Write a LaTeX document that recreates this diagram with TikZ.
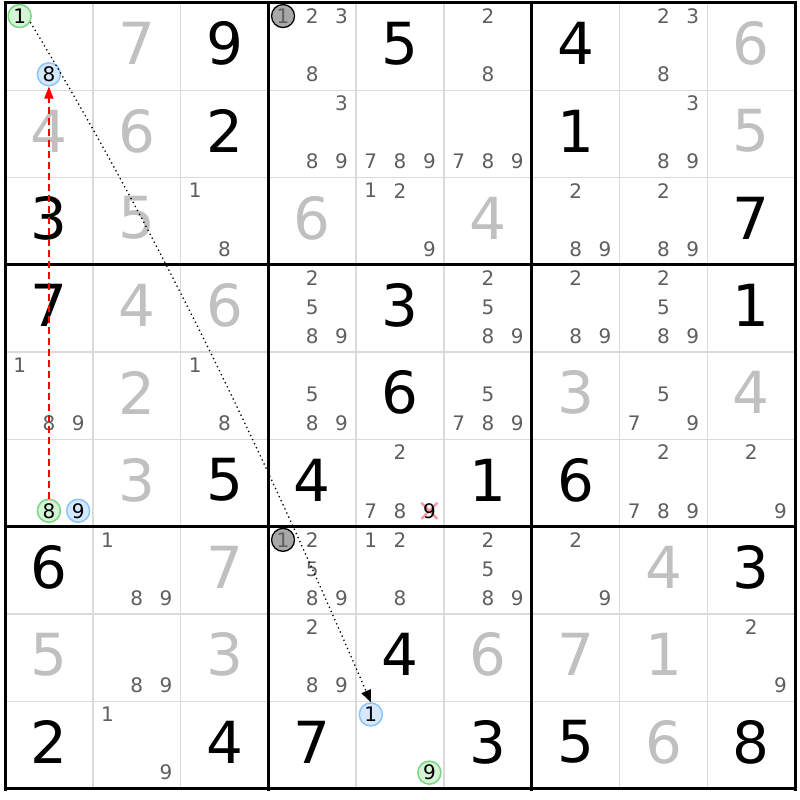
\documentclass[tikz,border=0pt]{standalone}
\usepackage{fontspec}
\setmainfont{DejaVu Sans}
\usetikzlibrary{arrows.meta}
\definecolor{candgray}{RGB}{95,95,95}
\definecolor{solvgray}{RGB}{192,192,192}
\definecolor{gridgray}{RGB}{218,218,218}
\definecolor{grfill}{RGB}{214,244,214}
\definecolor{grdraw}{RGB}{120,214,130}
\definecolor{blfill}{RGB}{214,232,255}
\definecolor{bldraw}{RGB}{140,196,250}
\definecolor{gyfill}{RGB}{168,168,168}
\definecolor{crosspink}{RGB}{246,150,160}
\tikzset{
  giv/.style={inner sep=0pt, text=black, font=\fontsize{58}{58}\selectfont},
  sol/.style={inner sep=0pt, text=solvgray, font=\fontsize{58}{58}\selectfont},
  cand/.style={inner sep=0pt, text=candgray, font=\fontsize{20}{20}\selectfont},
  grc/.style={circle, minimum size=23pt, draw=grdraw, fill=grfill, line width=1.5pt, text=black},
  blc/.style={circle, minimum size=23pt, draw=bldraw, fill=blfill, line width=1.5pt, text=black},
  gyc/.style={circle, minimum size=23pt, draw=black, fill=gyfill, line width=1.3pt, text=candgray},
  thinl/.style={draw=gridgray, line width=1.6pt},
  thickl/.style={draw=black, line width=3pt},
  chainlink/.style={draw=black, dash pattern=on 1.3pt off 3.2pt, line width=1.3pt, -{Triangle[width=10pt,length=12pt]}},
  redlink/.style={draw=red, dash pattern=on 7pt off 4pt, line width=1.2pt, -{Triangle[width=9pt,length=12pt]}},
}
\newcommand\sgiv[3]{\node[giv] (d#1#2) at ({5+(#2-0.5)*87.8},{3+(#1-0.5)*87.3-3}) {#3};}
\newcommand\ssol[3]{\node[sol] (d#1#2) at ({5+(#2-0.5)*87.8},{3+(#1-0.5)*87.3-3}) {#3};}
\newcommand\scand[4][]{%
  \pgfmathsetmacro\kx{5+(#3-1)*87.8+(mod(#4-1,3)+0.5)*29.27}%
  \pgfmathsetmacro\ky{3+(#2-1)*87.3+(floor((#4-1)/3)+0.5)*29.1-1.5}%
  \node[cand,#1] (k#2#3#4) at (\kx,\ky) {#4};}
\newcommand\scands[3]{\foreach \kk in {#3}{\scand{#1}{#2}{\kk}}}
\begin{document}
\begin{tikzpicture}[x=1pt,y=-1pt]
\useasboundingbox (0,0) rectangle (800,800);
\fill[white] (0,0) rectangle (800,800);
% thin grid lines
\foreach \i in {1,2,4,5,7,8}{
  \draw[thinl] ({5+\i*87.8},3) -- ({5+\i*87.8},789);
  \draw[thinl] (5,{3+\i*87.3}) -- (795,{3+\i*87.3});
}
% thick grid lines
\foreach \i in {0,3,6,9}{
  \draw[thickl] ({5+\i*87.8},1.5) -- ({5+\i*87.8},790.5);
  \draw[thickl] (3.5,{3+\i*87.3}) -- (796.5,{3+\i*87.3});
}
% row 1
\scand[grc]{1}{1}{1}\scand[blc]{1}{1}{8}
\ssol{1}{2}{7}\sgiv{1}{3}{9}
\scand[gyc]{1}{4}{1}\scands{1}{4}{2,3,8}
\sgiv{1}{5}{5}\scands{1}{6}{2,8}
\sgiv{1}{7}{4}\scands{1}{8}{2,3,8}\ssol{1}{9}{6}
% row 2
\ssol{2}{1}{4}\ssol{2}{2}{6}\sgiv{2}{3}{2}
\scands{2}{4}{3,8,9}\scands{2}{5}{7,8,9}\scands{2}{6}{7,8,9}
\sgiv{2}{7}{1}\scands{2}{8}{3,8,9}\ssol{2}{9}{5}
% row 3
\sgiv{3}{1}{3}\ssol{3}{2}{5}\scands{3}{3}{1,8}
\ssol{3}{4}{6}\scands{3}{5}{1,2,9}\ssol{3}{6}{4}
\scands{3}{7}{2,8,9}\scands{3}{8}{2,8,9}\sgiv{3}{9}{7}
% row 4
\sgiv{4}{1}{7}\ssol{4}{2}{4}\ssol{4}{3}{6}
\scands{4}{4}{2,5,8,9}\sgiv{4}{5}{3}\scands{4}{6}{2,5,8,9}
\scands{4}{7}{2,8,9}\scands{4}{8}{2,5,8,9}\sgiv{4}{9}{1}
% row 5
\scands{5}{1}{1,8,9}\ssol{5}{2}{2}\scands{5}{3}{1,8}
\scands{5}{4}{5,8,9}\sgiv{5}{5}{6}\scands{5}{6}{5,7,8,9}
\ssol{5}{7}{3}\scands{5}{8}{5,7,9}\ssol{5}{9}{4}
% row 6
\scand[grc]{6}{1}{8}\scand[blc]{6}{1}{9}
\ssol{6}{2}{3}\sgiv{6}{3}{5}
\sgiv{6}{4}{4}\scands{6}{5}{2,7,8}
\draw[crosspink, line width=2.3pt] ({5+4*87.8+73.17-8},{3+5*87.3+72.75-1.5-8}) -- ({5+4*87.8+73.17+8},{3+5*87.3+72.75-1.5+8})
  ({5+4*87.8+73.17-8},{3+5*87.3+72.75-1.5+8}) -- ({5+4*87.8+73.17+8},{3+5*87.3+72.75-1.5-8});
\scand[text=black]{6}{5}{9}
\sgiv{6}{6}{1}
\sgiv{6}{7}{6}\scands{6}{8}{2,7,8,9}\scands{6}{9}{2,9}
% row 7
\sgiv{7}{1}{6}\scands{7}{2}{1,8,9}\ssol{7}{3}{7}
\scand[gyc]{7}{4}{1}\scands{7}{4}{2,5,8,9}
\scands{7}{5}{1,2,8}\scands{7}{6}{2,5,8,9}
\scands{7}{7}{2,9}\ssol{7}{8}{4}\sgiv{7}{9}{3}
% row 8
\ssol{8}{1}{5}\scands{8}{2}{8,9}\ssol{8}{3}{3}
\scands{8}{4}{2,8,9}\sgiv{8}{5}{4}\ssol{8}{6}{6}
\ssol{8}{7}{7}\ssol{8}{8}{1}\scands{8}{9}{2,9}
% row 9
\sgiv{9}{1}{2}\scands{9}{2}{1,9}\sgiv{9}{3}{4}
\sgiv{9}{4}{7}\scand[blc]{9}{5}{1}\scand[grc]{9}{5}{9}\sgiv{9}{6}{3}
\sgiv{9}{7}{5}\ssol{9}{8}{6}\sgiv{9}{9}{8}
% links
\draw[redlink] (k618.north) -- (k118.south);
\draw[chainlink] (k111.-30) .. controls (161,237) and (271,471) .. (k951.north);
\end{tikzpicture}
\end{document}
